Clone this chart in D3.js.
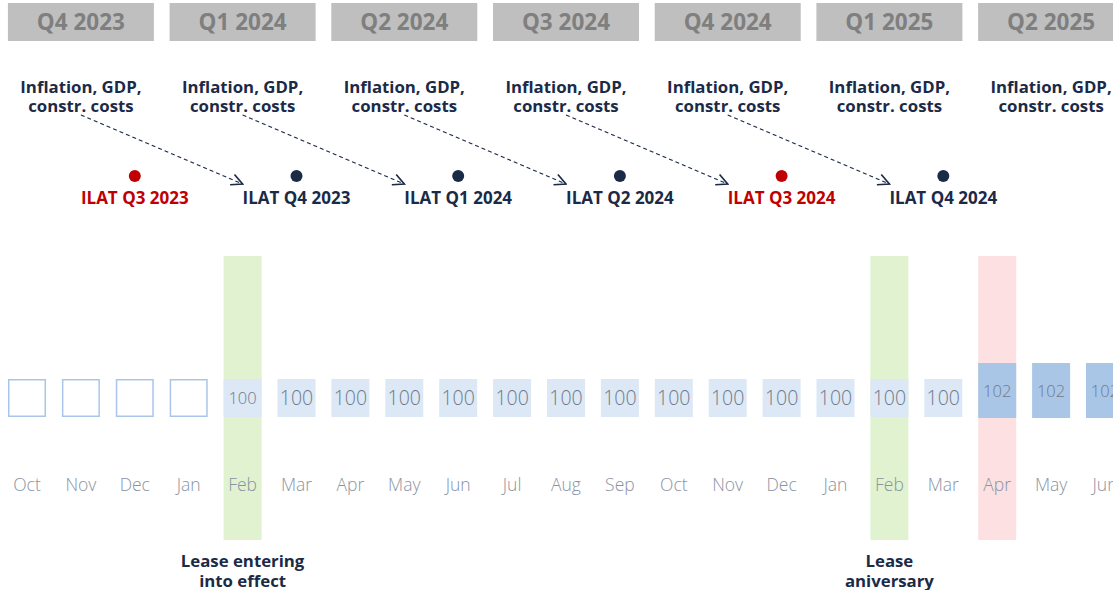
<html>
<script src="https://cdn.jsdelivr.net/npm/d3@7"></script>
<style>
    body { margin: 0; background: #fff; }
    text { font-family: "Open Sans", "Noto Sans", sans-serif; }
</style>

<body>
    <svg width="1113" height="590"></svg>
    <script>
        // data
        const months = ['Oct', 'Nov', 'Dec', 'Jan', 'Feb', 'Mar', 'Apr', 'May', 'Jun', 'Jul', 'Aug', 'Sep',
            'Oct', 'Nov', 'Dec', 'Jan', 'Feb', 'Mar', 'Apr', 'May', 'Jun'];
        const indexValues = [null, null, null, null, 100, 100, 100, 100, 100, 100, 100, 100,
            100, 100, 100, 100, 100, 100, 102, 102, 102];
        const quarters = ['Q4 2023', 'Q1 2024', 'Q2 2024', 'Q3 2024', 'Q4 2024', 'Q1 2025', 'Q2 2025'];
        const ilatLabels = ['ILAT Q3 2023', 'ILAT Q4 2023', 'ILAT Q1 2024', 'ILAT Q2 2024', 'ILAT Q3 2024', 'ILAT Q4 2024'];
        const ilatMonth = [2, 5, 8, 11, 14, 17];   // published in last month of each quarter
        const ilatKey = [true, false, false, false, true, false];
        const arrowPairs = [[0, 1], [1, 2], [2, 3], [3, 4], [4, 5]]; // quarter -> next quarter
        const events = [
            { month: 4, kind: 'lease', label: ['Lease entering', 'into effect'] },
            { month: 16, kind: 'lease', label: ['Lease', 'aniversary'] },
            { month: 18, kind: 'indexation', label: [] }
        ];

        const navy = '#1b2a47', red = '#c00000';
        const svg = d3.select('svg');

        const x = d3.scalePoint().domain(d3.range(months.length)).range([27, 1105]);
        const bw = 38;
        const qx = i => x(i * 3 + 1);
        const firstVal = indexValues.findIndex(v => v != null);

        // highlight columns
        svg.append('g').selectAll('rect')
            .data(events)
            .enter()
            .append('rect')
            .attr('x', d => x(d.month) - bw / 2)
            .attr('y', 256)
            .attr('width', bw)
            .attr('height', 284)
            .attr('fill', d => d.kind == 'lease' ? '#e0f2cf' : '#fde0e1');

        // quarter headers
        const q = svg.append('g').selectAll('g')
            .data(quarters)
            .enter()
            .append('g');
        q.append('rect')
            .attr('x', (d, i) => qx(i) - 73)
            .attr('y', 3)
            .attr('width', 146)
            .attr('height', 38)
            .attr('fill', '#bfbfbf');
        q.append('text')
            .attr('x', (d, i) => qx(i))
            .attr('y', 30)
            .attr('text-anchor', 'middle')
            .attr('font-size', 22.5)
            .attr('font-weight', 'bold')
            .attr('fill', '#7f7f7f')
            .text(d => d);
        q.append('text')
            .attr('x', (d, i) => qx(i))
            .attr('y', 93)
            .attr('text-anchor', 'middle')
            .attr('font-size', 16.8)
            .attr('font-weight', 'bold')
            .attr('fill', navy)
            .text('Inflation, GDP,');
        q.append('text')
            .attr('x', (d, i) => qx(i))
            .attr('y', 112)
            .attr('text-anchor', 'middle')
            .attr('font-size', 16.8)
            .attr('font-weight', 'bold')
            .attr('fill', navy)
            .text('constr. costs');

        // dashed arrows
        svg.append('defs').append('marker')
            .attr('id', 'arr')
            .attr('viewBox', '0 0 10 10')
            .attr('refX', 9).attr('refY', 5)
            .attr('markerWidth', 14).attr('markerHeight', 14)
            .attr('markerUnits', 'userSpaceOnUse')
            .attr('orient', 'auto')
            .append('path')
            .attr('d', 'M1,1 L9,5 L1,9')
            .attr('fill', 'none')
            .attr('stroke', navy)
            .attr('stroke-width', 1.2);
        svg.append('g').selectAll('line')
            .data(arrowPairs)
            .enter()
            .append('line')
            .attr('x1', d => qx(d[0]))
            .attr('y1', 115)
            .attr('x2', d => qx(d[1]))
            .attr('y2', 184)
            .attr('stroke', navy)
            .attr('stroke-width', 1.2)
            .attr('stroke-dasharray', '4,3')
            .attr('marker-end', 'url(#arr)');

        // ILAT dots
        const il = svg.append('g').selectAll('g')
            .data(ilatLabels)
            .enter()
            .append('g');
        il.append('circle')
            .attr('cx', (d, i) => x(ilatMonth[i]))
            .attr('cy', 176)
            .attr('r', 6)
            .attr('fill', (d, i) => ilatKey[i] ? red : navy);
        il.append('text')
            .attr('x', (d, i) => x(ilatMonth[i]))
            .attr('y', 204)
            .attr('text-anchor', 'middle')
            .attr('font-size', 17)
            .attr('font-weight', 'bold')
            .attr('fill', (d, i) => ilatKey[i] ? red : navy)
            .text(d => d);

        // monthly boxes
        const b = svg.append('g').selectAll('g')
            .data(indexValues)
            .enter()
            .append('g');
        b.append('rect')
            .attr('x', (d, i) => x(i) - bw / 2 + (d == null ? 0.75 : 0))
            .attr('y', d => d == null ? 379.75 : d > 100 ? 363 : 379)
            .attr('width', d => d == null ? bw - 1.5 : bw)
            .attr('height', d => d == null ? 36.5 : d > 100 ? 55 : 38)
            .attr('fill', d => d == null ? 'none' : d > 100 ? '#a9c6e6' : '#dce8f5')
            .attr('stroke', d => d == null ? '#a9c6e8' : 'none')
            .attr('stroke-width', 1.5);
        b.each(function (d, i) {
            if (d == null) return;
            const small = d > 100 || i == firstVal;
            d3.select(this).append('text')
                .attr('x', x(i))
                .attr('y', d > 100 ? 397 : small ? 404 : 405)
                .attr('text-anchor', 'middle')
                .attr('font-size', small ? 16.5 : 19.5)
                .attr('font-weight', 300)
                .attr('fill', '#6f7a8c')
                .text(d);
        });

        // month labels
        svg.append('g').selectAll('text')
            .data(months)
            .enter()
            .append('text')
            .attr('x', (d, i) => x(i))
            .attr('y', 491)
            .attr('text-anchor', 'middle')
            .attr('font-size', 17.5)
            .attr('font-weight', 300)
            .attr('fill', '#8a93a3')
            .text(d => d);

        // event labels
        const ev = svg.append('g').selectAll('text')
            .data(events)
            .enter()
            .append('text')
            .attr('text-anchor', 'middle')
            .attr('font-size', 16.8)
            .attr('font-weight', 'bold')
            .attr('fill', navy);
        ev.selectAll('tspan')
            .data(d => d.label.map(l => ({ l: l, m: d.month })))
            .enter()
            .append('tspan')
            .attr('x', d => x(d.m))
            .attr('y', (d, i) => 567 + i * 20)
            .text(d => d.l);
    </script>
</body>

</html>
